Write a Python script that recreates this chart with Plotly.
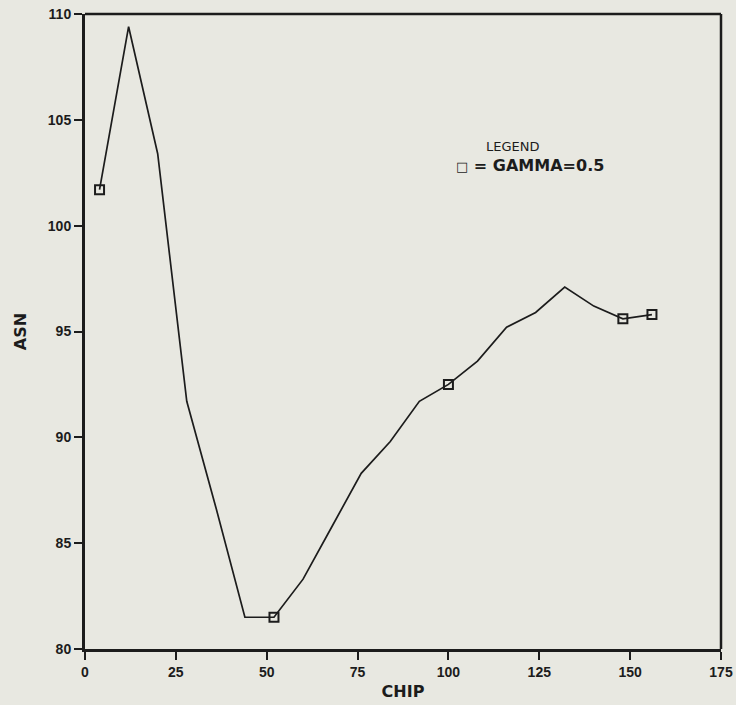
import plotly.graph_objects as go

# ASN versus CHIP for gamma = 0.5
chip = [4, 12, 20, 28, 36, 44, 52, 60, 68, 76, 84, 92, 100, 108, 116, 124, 132, 140, 148, 156]
asn = [101.7, 109.4, 103.4, 91.7, 86.7, 81.5, 81.5, 83.3, 85.8, 88.3, 89.8, 91.7,
       92.5, 93.6, 95.2, 95.9, 97.1, 96.2, 95.6, 95.8]
marked_chip = [4, 52, 100, 148, 156]
x_ticks = [0, 25, 50, 75, 100, 125, 150, 175]
y_ticks = [80, 85, 90, 95, 100, 105, 110]

ink = "#1c1c1c"
paper = "#e8e8e1"
font_family = "DejaVu Sans, Liberation Sans, sans-serif"
tick_family = "Liberation Sans, Arial, sans-serif"

marked_asn = [asn[chip.index(c)] for c in marked_chip]

fig = go.Figure()
fig.add_trace(go.Scatter(x=chip, y=asn, mode="lines",
                         line=dict(color=ink, width=1.7), showlegend=False))
fig.add_trace(go.Scatter(x=marked_chip, y=marked_asn, mode="markers",
                         marker=dict(symbol="square-open", size=9, color=ink,
                                     line=dict(color=ink, width=2)),
                         showlegend=False))

axis_common = dict(showgrid=False, zeroline=False, showline=True, linecolor=ink,
                   linewidth=3, ticks="outside", ticklen=8, tickwidth=2,
                   tickcolor=ink, automargin=False,
                   tickfont=dict(family=tick_family, size=14, color=ink, weight="bold"))

fig.update_layout(
    width=736, height=705,
    margin=dict(l=85, r=15, t=14, b=56),
    paper_bgcolor=paper, plot_bgcolor=paper,
    xaxis=dict(range=[0, 175], tickvals=x_ticks, **axis_common,
               title=dict(text="CHIP", standoff=8,
                          font=dict(family=font_family, size=16, color=ink, weight="bold"))),
    yaxis=dict(range=[80, 110], tickvals=y_ticks, **axis_common,
               title=dict(text="ASN", standoff=18,
                          font=dict(family=font_family, size=16, color=ink, weight="bold"))),
    shapes=[
        dict(type="line", xref="paper", yref="paper", x0=0, x1=1, y0=1, y1=1,
             line=dict(color=ink, width=2.5)),
        dict(type="line", xref="paper", yref="paper", x0=1, x1=1, y0=0, y1=1,
             line=dict(color=ink, width=2.5)),
    ],
    annotations=[
        dict(text="LEGEND", x=117.5, y=103.72, xref="x", yref="y", showarrow=False,
             font=dict(family=font_family, size=13, color=ink)),
        dict(text="<span style='font-size:13px'>\u25a1</span> = GAMMA=0.5",
             x=122.5, y=102.82, xref="x", yref="y", showarrow=False,
             font=dict(family=font_family, size=16, color=ink, weight="bold")),
    ],
)

fig.write_html("out.html")
